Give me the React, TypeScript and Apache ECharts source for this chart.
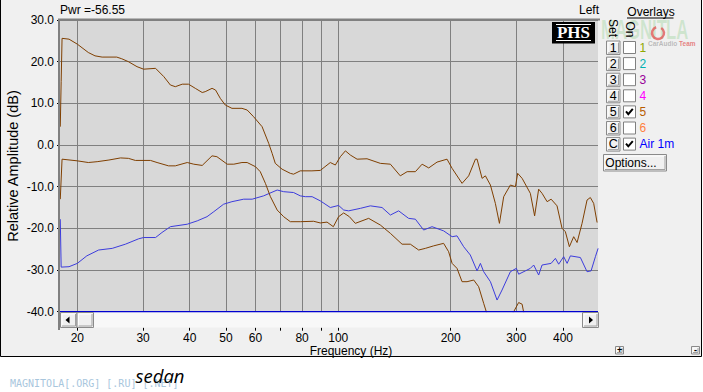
import React, { useEffect, useRef } from 'react';
import * as echarts from 'echarts';

// ---- data (frequency Hz, relative amplitude dB) ----
const upperTrace: number[][] = [
  [18.0, 4.4], [18.1, 15.2], [18.2, 25.6], [19.0, 25.4], [20.0, 24.2], [21.4, 22.2], [22.3, 21.4], [23.3, 21.1],
  [25.5, 21.1], [26.3, 20.7], [27.4, 20.0], [28.9, 18.8], [30.1, 18.2], [32.4, 18.4], [34.1, 16.4], [35.5, 14.4],
  [36.6, 14.0], [38.2, 14.6], [39.7, 14.6], [41.4, 13.6], [43.2, 12.6], [44.0, 12.8], [45.9, 13.6], [46.9, 13.2],
  [48.3, 11.2], [49.8, 9.6], [51.9, 8.8], [55.2, 8.8], [57.0, 8.4], [59.3, 6.8], [62.5, 4.4], [65.1, 0.4],
  [66.5, -2.0], [67.8, -4.4], [70.7, -5.8], [74.4, -6.8], [75.9, -7.0], [79.1, -6.2], [85.0, -6.2], [89.5, -6.1],
  [95.2, -4.2], [98.2, -4.8], [101.3, -2.8], [104.5, -1.4], [107.7, -2.4], [112.3, -3.4], [119.4, -3.3], [129.6, -4.4],
  [137.9, -4.6], [146.6, -7.4], [152.9, -6.4], [160.9, -6.4], [167.7, -4.6], [174.7, -5.5], [183.9, -4.1], [195.6, -3.4],
  [201.8, -5.6], [214.6, -9.2], [223.5, -7.4], [233.0, -3.4], [235.4, -3.4], [242.8, -8.0], [247.8, -7.4], [255.6, -9.6],
  [263.5, -14.0], [270.2, -18.8], [277.4, -12.4], [289.1, -9.6], [298.2, -10.0], [302.4, -6.8], [310.8, -8.0], [327.0, -11.6],
  [335.7, -17.0], [344.2, -10.6], [351.5, -11.6], [362.6, -13.6], [371.7, -13.0], [385.5, -14.6], [397.6, -20.0], [405.8, -20.8],
  [416.0, -24.4], [427.2, -22.0], [436.2, -23.4], [449.8, -18.8], [463.9, -13.2], [473.4, -12.6], [483.2, -14.0], [493.6, -18.6],
];

const lowerTrace: number[][] = [
  [18.0, -13.0], [18.2, -3.4], [20.0, -3.8], [21.4, -4.2], [22.6, -4.0], [24.3, -3.6], [26.1, -3.1], [27.4, -3.2],
  [28.6, -3.7], [31.4, -3.7], [32.7, -4.2], [35.1, -5.0], [36.6, -5.0], [39.4, -4.2], [41.0, -4.6], [43.2, -4.9],
  [45.9, -2.6], [47.3, -2.8], [50.4, -4.6], [52.5, -4.6], [55.2, -4.2], [57.0, -4.2], [60.0, -5.2], [61.8, -6.4],
  [63.8, -9.2], [65.8, -12.4], [68.6, -15.6], [71.4, -17.2], [74.4, -18.4], [79.1, -18.4], [85.9, -18.3], [89.5, -18.7],
  [93.3, -18.5], [97.0, -19.6], [100.2, -17.2], [103.4, -16.3], [107.1, -17.2], [111.1, -18.8], [120.6, -17.6], [129.6, -19.2],
  [137.9, -21.2], [148.2, -23.8], [156.0, -23.8], [164.2, -25.2], [171.1, -24.8], [180.1, -24.2], [191.5, -23.6], [197.5, -25.6],
  [201.8, -28.4], [208.0, -29.6], [214.6, -32.8], [221.3, -32.8], [230.6, -32.4], [237.7, -34.0], [245.2, -38.0], [250.4, -40.6],
  [262.0, -44.5], [280.0, -43.0], [295.1, -40.0], [304.2, -37.8], [310.8, -38.2], [313.9, -40.2], [330.0, -45.0], [380.0, -47.5],
  [450.0, -46.0], [497.0, -44.0],
];

const air1mTrace: number[][] = [
  [18.0, -17.8], [18.1, -29.3], [19.0, -29.2], [20.0, -28.4], [21.2, -26.6], [22.8, -25.2], [24.8, -24.8], [26.9, -23.8],
  [29.2, -22.5], [30.1, -22.2], [32.4, -22.2], [33.7, -21.0], [35.5, -19.6], [39.4, -19.0], [41.9, -18.2], [44.5, -17.2],
  [46.4, -16.0], [49.3, -14.2], [51.9, -13.6], [55.8, -13.0], [58.8, -13.0], [63.1, -12.2], [68.6, -10.8], [71.4, -11.2],
  [75.9, -11.4], [79.1, -12.2], [81.6, -12.4], [85.1, -12.4], [89.5, -13.4], [95.2, -15.0], [100.2, -14.5], [103.4, -15.6],
  [106.6, -15.8], [114.6, -15.2], [121.9, -14.6], [131.0, -15.0], [137.9, -16.8], [145.1, -15.8], [154.3, -17.6], [160.9, -17.8],
  [169.3, -20.4], [178.3, -19.6], [191.5, -20.6], [201.8, -22.0], [208.0, -21.8], [216.7, -24.4], [225.8, -26.4], [235.4, -30.2],
  [240.3, -28.4], [245.2, -30.4], [255.6, -32.8], [266.3, -37.2], [274.6, -34.8], [289.1, -30.4], [300.0, -29.6], [304.2, -31.0],
  [317.2, -30.2], [327.0, -29.6], [333.8, -28.8], [344.2, -31.2], [351.5, -28.8], [371.7, -28.4], [381.6, -27.2], [389.4, -28.6],
  [401.6, -26.8], [410.2, -28.4], [418.6, -26.6], [445.2, -27.0], [463.9, -30.4], [475.6, -30.2], [488.4, -26.8], [496.6, -24.8],
];

const xTickHz = [20, 30, 40, 50, 60, 70, 80, 90, 100, 200, 300, 400];
const xLabelHz = [20, 30, 40, 50, 60, 80, 100, 200, 300, 400];
const freqMinHz = 17.97;
const freqMaxHz = 496.3;
const dbMin = -40;
const dbMax = 30;
const dbStep = 10;

const overlayKeys = ['1', '2', '3', '4', '5', '6', 'C'];
const overlayNames = ['1', '2', '3', '4', '5', '6', 'Air 1m'];
const overlayColors = ['#8fa800', '#00b0b0', '#990099', '#ff00ff', '#b85c00', '#ff8040', '#0000ff'];
const overlayOn = [false, false, false, false, true, false, true];

const FONT = "'Liberation Sans', Arial, sans-serif";

function txt(text: string, x: number, y: number, o: any = {}) {
  const align = o.align || 'left';
  const style: any = {
    text, fill: o.fill || '#000', fontSize: o.size || 12, fontFamily: o.family || FONT,
    fontWeight: o.weight || 'normal', fontStyle: o.fontStyle || 'normal',
    textAlign: align, align, textVerticalAlign: 'middle', verticalAlign: 'middle',
  };
  if (o.rich) style.rich = o.rich;
  return { type: 'text', x, y, z: o.z ?? 30, rotation: o.rotation || 0, scaleX: o.scaleX ?? 1, style };
}

function bevel(x: number, y: number, w: number, h: number, z = 20) {
  return [
    { type: 'rect', z, shape: { x, y, width: w, height: h }, style: { fill: '#f0f0f0', stroke: '#8a8a8a', lineWidth: 1 } },
    { type: 'polyline', z: z + 1, shape: { points: [[x + 1.5, y + h - 1.5], [x + 1.5, y + 1.5], [x + w - 1.5, y + 1.5]] }, style: { stroke: '#ffffff', lineWidth: 1, fill: null } },
    { type: 'polyline', z: z + 1, shape: { points: [[x + 1.5, y + h - 1.5], [x + w - 1.5, y + h - 1.5], [x + w - 1.5, y + 1.5]] }, style: { stroke: '#a0a0a0', lineWidth: 1, fill: null } },
  ];
}

function buildGraphics() {
  const els: any[] = [];
  // frame / background
  els.push({ type: 'rect', z: -10, shape: { x: 0.5, y: -2, width: 701, height: 358.5 }, style: { fill: '#f0f0f0', stroke: '#000', lineWidth: 1 } });
  // plot borders
  els.push({ type: 'line', z: 12, shape: { x1: 58, y1: 19.5, x2: 600, y2: 19.5 }, style: { stroke: '#808080', lineWidth: 2 } });
  els.push({ type: 'line', z: 12, shape: { x1: 59, y1: 19, x2: 59, y2: 330 }, style: { stroke: '#808080', lineWidth: 2 } });
  els.push({ type: 'line', z: 12, shape: { x1: 60, y1: 311.7, x2: 598, y2: 311.7 }, style: { stroke: '#0000d0', lineWidth: 1.2 } });
  // scrollbar
  els.push({ type: 'rect', z: 11, shape: { x: 60, y: 312.5, width: 538, height: 15 }, style: { fill: '#f8f8f8' } });
  els.push(...bevel(60.5, 312.5, 16.5, 15, 13));
  els.push({ type: 'polygon', z: 16, shape: { points: [[65.5, 320], [69.5, 316.5], [69.5, 323.5]] }, style: { fill: '#000' } });
  els.push(...bevel(77, 312.5, 16.5, 15, 13));
  els.push(...bevel(582.5, 312.5, 16, 15, 13));
  els.push({ type: 'polygon', z: 16, shape: { points: [[593, 320], [589, 316.5], [589, 323.5]] }, style: { fill: '#000' } });
  // header texts
  els.push(txt('Pwr =-56.55', 60, 9.5));
  els.push(txt('Left', 579, 9.5));
  els.push(txt('Overlays', 627.3, 12));
  els.push({ type: 'line', z: 30, shape: { x1: 627, y1: 18, x2: 673.5, y2: 18 }, style: { stroke: '#000', lineWidth: 1 } });
  // axis titles
  els.push(txt('Frequency (Hz)', 351, 350.5, { align: 'center' }));
  els.push(txt('Relative Amplitude (dB)', 12.5, 166, { align: 'center', rotation: Math.PI / 2, size: 14.5 }));
  // PHS logo
  els.push({ type: 'rect', z: 25, shape: { x: 552, y: 22, width: 43, height: 21.5 }, style: { fill: '#000' } });
  els.push(txt('PHS', 573.5, 32.5, { align: 'center', fill: '#fff', family: "'Liberation Serif', 'Times New Roman', serif", weight: 'bold', size: 17, z: 26 }));
  els.push({ type: 'line', z: 26, shape: { x1: 556, y1: 24.5, x2: 591, y2: 24.5 }, style: { stroke: '#fff', lineWidth: 1 } });
  els.push({ type: 'line', z: 26, shape: { x1: 556, y1: 40.5, x2: 591, y2: 40.5 }, style: { stroke: '#fff', lineWidth: 1 } });
  // watermark logo
  els.push(txt('MAGNIT', 601, 29.5, { fill: 'rgba(120,200,120,0.28)', size: 27, weight: 'bold', scaleX: 0.62, z: 5 }));
  els.push(txt('LA', 666, 29.5, { fill: 'rgba(120,200,120,0.28)', size: 27, weight: 'bold', scaleX: 0.62, z: 5 }));
  els.push({ type: 'arc', z: 6, shape: { cx: 658, cy: 33, r: 6, startAngle: -1.0, endAngle: 4.4 }, style: { stroke: 'rgba(225,70,70,0.7)', lineWidth: 2.5, fill: null } });
  els.push(txt('{a|CarAudio} {b|Team}', 648, 43.5, {
    size: 6.5, weight: 'bold', z: 6,
    rich: {
      a: { fill: 'rgba(150,150,150,0.6)', fontSize: 6.5, fontWeight: 'bold', fontFamily: FONT },
      b: { fill: 'rgba(225,90,90,0.75)', fontSize: 6.5, fontWeight: 'bold', fontFamily: FONT },
    },
  }));
  // Set / On
  els.push(txt('Set', 612.5, 28, { align: 'center', rotation: -Math.PI / 2 }));
  els.push(txt('On', 629.5, 29.5, { align: 'center', rotation: -Math.PI / 2 }));
  // overlay rows
  overlayKeys.forEach((key, i) => {
    const yc = 47.5 + i * 16.1;
    els.push(...bevel(606.5, yc - 6.5, 13.5, 13.5, 20));
    els.push(txt(key, 613.3, yc, { align: 'center', size: 12.5 }));
    els.push({ type: 'rect', z: 20, shape: { x: 623.5, y: yc - 6, width: 12, height: 12 }, style: { fill: '#fff', stroke: '#808080', lineWidth: 1 } });
    if (overlayOn[i]) {
      els.push({ type: 'polyline', z: 22, shape: { points: [[626, yc - 0.5], [628.3, yc + 2.2], [632.8, yc - 3]] }, style: { stroke: '#000', lineWidth: 2, fill: null } });
    }
    els.push(txt(overlayNames[i], 639.5, yc, { fill: overlayColors[i], size: 12 }));
  });
  // Options button
  els.push(...bevel(603.5, 154.5, 63, 16.5, 20));
  els.push(txt('Options...', 631, 163, { align: 'center', size: 12 }));
  // +/- buttons
  els.push(...bevel(615.5, 346.5, 8, 7.5, 20));
  els.push(txt('+', 619.5, 350.2, { align: 'center', size: 9, weight: 'bold' }));
  els.push(...bevel(691.5, 346.5, 8, 7.5, 20));
  els.push(txt('-', 695.5, 349.8, { align: 'center', size: 9, weight: 'bold' }));
  // footer
  els.push(txt('MAGNITOLA[.ORG] [.RU] [.NET]', 10, 383, { fill: '#a8c6dd', size: 10, family: "'DejaVu Sans Mono', monospace", z: 30 }));
  els.push(txt('sedan', 160, 375.5, { align: 'center', size: 18.5, fontStyle: 'italic', family: "'Open Sans', 'Noto Sans', sans-serif", z: 31 }));
  return els;
}

export default function App() {
  const ref = useRef<HTMLDivElement>(null);
  useEffect(() => {
    const chart = echarts.init(ref.current!, null, { renderer: 'svg' });
    const toXY = (arr: number[][]) => arr.map(([f, db]) => [Math.log10(f), db]);
    const option: any = {
      animation: false,
      backgroundColor: '#ffffff',
      grid: { left: 60, top: 20, width: 538, height: 291.7, show: true, backgroundColor: '#d8d8d8', borderWidth: 0, containLabel: false },
      xAxis: {
        type: 'value',
        min: Math.log10(freqMinHz),
        max: Math.log10(freqMaxHz),
        offset: 16,
        axisLine: { show: false, onZero: false },
        axisTick: { show: true, length: 3, lineStyle: { color: '#000' }, customValues: xTickHz.map((v) => Math.log10(v)) },
        axisLabel: {
          customValues: xLabelHz.map((v) => Math.log10(v)),
          formatter: (v: number) => String(Math.round(Math.pow(10, v))),
          margin: 4, color: '#000', fontSize: 12, fontFamily: FONT,
        },
        splitLine: { show: true, lineStyle: { color: '#808080', width: 1 } },
      },
      yAxis: {
        type: 'value', min: dbMin, max: dbMax, interval: dbStep,
        axisLine: { show: false, onZero: false },
        axisTick: { show: true, length: 3, lineStyle: { color: '#000' } },
        axisLabel: { formatter: (v: number) => v.toFixed(1), margin: 6, color: '#000', fontSize: 12, fontFamily: FONT },
        splitLine: { show: true, lineStyle: { color: '#808080', width: 1 } },
      },
      series: [
        { name: 'Air 1m', type: 'line', data: toXY(air1mTrace), symbol: 'none', lineStyle: { color: '#3c3cdc', width: 1 }, clip: true, z: 3 },
        { name: '5', type: 'line', data: toXY(lowerTrace), symbol: 'none', lineStyle: { color: '#7f3f00', width: 1 }, clip: true, z: 4 },
        { name: 'Current', type: 'line', data: toXY(upperTrace), symbol: 'none', lineStyle: { color: '#7f3f00', width: 1 }, clip: true, z: 4 },
      ],
      graphic: { elements: buildGraphics() },
    };
    chart.setOption(option);
    return () => chart.dispose();
  }, []);
  return <div ref={ref} style={{ position: 'absolute', left: 0, top: 0, width: 703, height: 392 }} />;
}
